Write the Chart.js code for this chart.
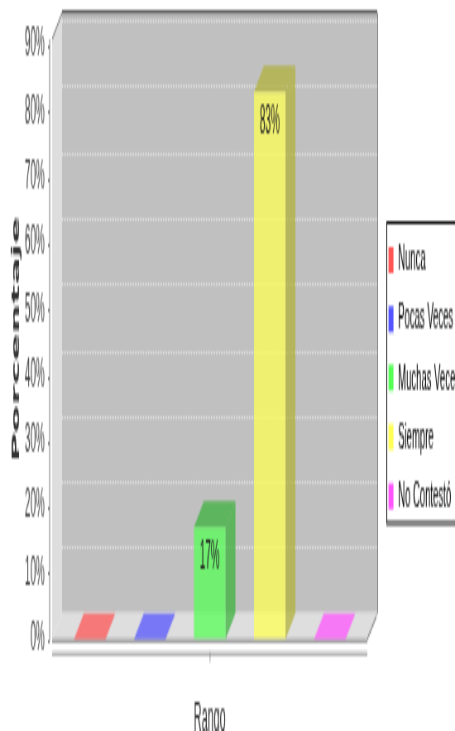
<!DOCTYPE html>
<html><head><meta charset="utf-8">
<style>html,body{margin:0;padding:0;background:#fff;overflow:hidden}
canvas{display:block;width:455px!important;height:731px!important}</style>
<script src="https://cdn.jsdelivr.net/npm/chart.js@4"></script></head>
<body><canvas id="c" width="550" height="225"></canvas>
<script>
const categories = ['Rango'];
const seriesNames = ['Nunca', 'Pocas Veces', 'Muchas Veces', 'Siempre', 'No Contestó'];
const nunca = [0];
const pocasVeces = [0];
const muchasVeces = [17];
const siempre = [83];
const noContesto = [0];
const seriesRgb = ['255,85,85', '85,85,255', '85,255,85', '255,255,85', '255,85,255'];
const darkRgb = ['178,60,60', '60,60,178', '60,178,60', '178,178,60', '178,60,178'];
const yTicks = [0, 10, 20, 30, 40, 50, 60, 70, 80, 90];
const allValues = [nunca, pocasVeces, muchasVeces, siempre, noContesto];
const DX = 12, DY = 8;
const FONT = '"Liberation Sans"';

function poly(ctx, pts, fill) {
  ctx.beginPath();
  pts.forEach((p, i) => i ? ctx.lineTo(p[0], p[1]) : ctx.moveTo(p[0], p[1]));
  ctx.closePath();
  ctx.fillStyle = fill;
  ctx.fill();
}

const scene3d = {
  id: 'scene3d',
  afterLayout(chart) {
    const l = chart.legend;
    l.left = 462.9; l.right = 640; l.top = 67.5; l.bottom = 215;
    l.adjustHitBoxes();
  },
  beforeDraw(chart) {
    const ctx = chart.ctx;
    ctx.save();
    ctx.fillStyle = '#fff';
    ctx.fillRect(0, 0, chart.width, chart.height);
    // legend frame
    ctx.fillStyle = '#111';
    ctx.fillRect(467, 68, 90, 1);
    ctx.fillRect(467, 160.5, 90, 1);
    ctx.fillRect(467, 68, 1, 93);
    ctx.restore();
  },
  beforeDatasetsDraw(chart) {
    const ctx = chart.ctx, a = chart.chartArea, ys = chart.scales.y;
    const L = a.left, R = a.right, T = a.top, B = a.bottom;
    ctx.save();
    // walls
    poly(ctx, [[L + DX, T - DY], [R + DX, T - DY], [R + DX, B - DY], [L + DX, B - DY]], '#c0c0c0');
    poly(ctx, [[L, T], [L + DX, T - DY], [L + DX, B - DY], [L, B]], '#dedede');
    poly(ctx, [[L, B], [L + DX, B - DY], [R + DX, B - DY], [R, B]], '#dedede');
    // outlines
    ctx.strokeStyle = '#808080'; ctx.lineWidth = 1;
    ctx.beginPath();
    ctx.moveTo(L, T); ctx.lineTo(L + DX, T - DY);
    ctx.moveTo(R + DX + .5, T - DY); ctx.lineTo(R + DX + .5, B - DY); ctx.lineTo(R, B);
    ctx.stroke();
    ctx.fillStyle = '#666';
    ctx.fillRect(L + DX, T - DY - 1, R - L, 1.2);
    // gridlines on back wall and floor edge
    ctx.strokeStyle = '#e0e0e0';
    ctx.setLineDash([1, 1]);
    yTicks.forEach(v => {
      const y = Math.round(ys.getPixelForValue(v) - DY) + .5;
      ctx.beginPath(); ctx.moveTo(L + DX, y); ctx.lineTo(R + DX, y); ctx.stroke();
    });
    ctx.setLineDash([]);
    // y axis line and tick marks
    ctx.strokeStyle = '#808080';
    ctx.beginPath();
    ctx.moveTo(L - 3, T); ctx.lineTo(L - 3, B + .5);
    yTicks.forEach(v => {
      const y = Math.round(ys.getPixelForValue(v)) + .5;
      ctx.moveTo(L - 5, y); ctx.lineTo(L - 3, y);
    });
    ctx.stroke();
    // bottom front edge
    ctx.fillStyle = '#808080';
    ctx.fillRect(L, B, R - L, 1);
    // x axis line and tick mark
    ctx.fillStyle = '#9a9a9a';
    ctx.fillRect(L, B + 4, R - L, 1);
    ctx.fillStyle = '#808080';
    ctx.fillRect(chart.scales.x.getPixelForValue(0), B + 4, .8, 3);
    // bar depth faces
    chart.data.datasets.forEach((ds, i) => {
      const el = chart.getDatasetMeta(i).data[0];
      const x0 = el.x - el.width / 2, x1 = el.x + el.width / 2, y = el.y, b = el.base;
      const flat = Math.abs(b - y) < .5;
      poly(ctx, [[x0, y], [x1, y], [x1 + DX, y - DY], [x0 + DX, y - DY]],
        flat ? 'rgba(' + seriesRgb[i] + ',.75)' : 'rgba(' + darkRgb[i] + ',.75)');
      if (!flat) poly(ctx, [[x1, y], [x1 + DX, y - DY], [x1 + DX, b - DY], [x1, b]], 'rgba(' + darkRgb[i] + ',.75)');
    });
    ctx.restore();
  },
  afterDatasetsDraw(chart) {
    const ctx = chart.ctx;
    ctx.save();
    ctx.font = '12px ' + FONT;
    ctx.fillStyle = '#222';
    ctx.textAlign = 'center';
    ctx.textBaseline = 'middle';
    chart.data.datasets.forEach((ds, i) => {
      const v = ds.data[0];
      if (!v) return;
      const el = chart.getDatasetMeta(i).data[0];
      ctx.fillText(v + '%', el.x, el.y + 9.5);
    });
    ctx.restore();
  }
};

new Chart(document.getElementById('c'), {
  type: 'bar',
  plugins: [scene3d],
  data: {
    labels: categories,
    datasets: seriesNames.map((name, i) => ({
      label: name,
      data: allValues[i],
      backgroundColor: 'rgba(' + seriesRgb[i] + ',.75)',
      borderWidth: 0,
      categoryPercentage: .952,
      barPercentage: .525
    }))
  },
  options: {
    responsive: false,
    animation: false,
    devicePixelRatio: 1,
    layout: { padding: { top: 12, right: 6, left: 0, bottom: 0 } },
    plugins: {
      tooltip: { enabled: false },
      legend: {
        position: 'right',
        align: 'start',
        maxWidth: 100,
        labels: {
          boxWidth: 6,
          boxHeight: 8,
          padding: 6.7,
          color: '#333',
          font: { family: FONT, size: 11.5, lineHeight: 1 },
          generateLabels: () => seriesNames.map((n, i) => ({
            text: n, fillStyle: 'rgb(' + seriesRgb[i] + ')', strokeStyle: 'transparent', lineWidth: 0, datasetIndex: i
          }))
        }
      }
    },
    scales: {
      x: {
        grid: { display: false },
        border: { display: false },
        ticks: { display: false },
        title: {
          display: true, text: 'Rango', color: '#333',
          font: { family: FONT, size: 13, lineHeight: 1 },
          padding: { top: 0, bottom: -3 }
        },
        afterFit(s) { s.height = 28.3; }
      },
      y: {
        min: 0,
        max: 91.07,
        grid: { display: false, drawTicks: false },
        border: { display: false },
        ticks: {
          stepSize: 10,
          padding: 9,
          color: '#444',
          font: { family: FONT, size: 12 },
          callback: v => v + '%'
        },
        afterBuildTicks(s) { s.ticks = yTicks.map(v => ({ value: v })); },
        title: {
          display: true, text: 'Porcentaje', color: '#333',
          font: { family: '"DejaVu Sans"', size: 12.5, weight: 'bold' },
          padding: { top: 12, bottom: 0 }
        },
        afterFit(s) { s.width = 63; s.paddingTop = 0; s.paddingBottom = 0; }
      }
    }
  }
});
</script></body></html>
